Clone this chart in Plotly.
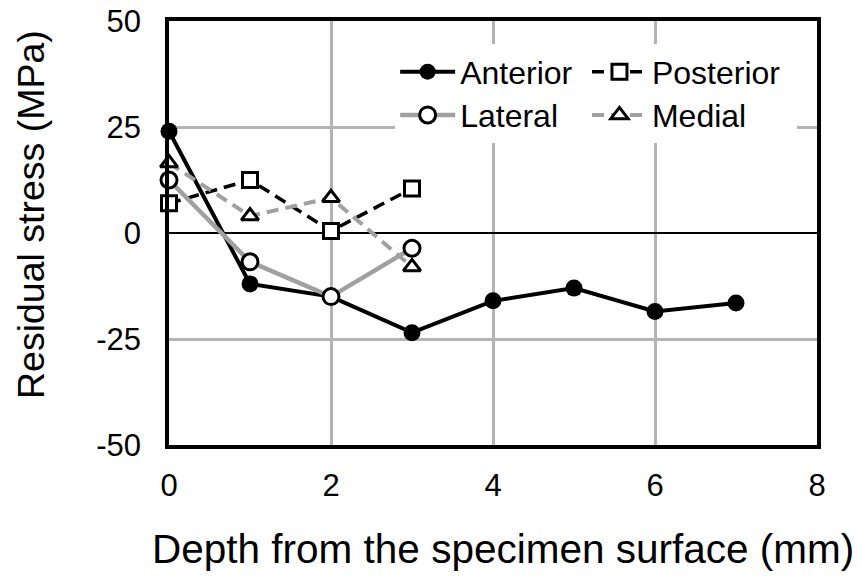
import plotly.graph_objects as go

depth_anterior = [0, 1, 2, 3, 4, 5, 6, 7]
anterior = [24, -12, -15, -23.5, -16, -13, -18.5, -16.5]
depth_short = [0, 1, 2, 3]
posterior = [7, 12.5, 0.5, 10.5]
lateral = [12.5, -6.8, -15, -3.6]
medial = [16.5, 4, 8.3, -8]

x_ticks = [0, 2, 4, 6, 8]
y_ticks = [-50, -25, 0, 25, 50]

x_title = "Depth from the specimen surface (mm)"
y_title = "Residual stress (MPa)"

FONT = "Liberation Sans, Arial, sans-serif"
GRAY = "#a0a0a0"

fig = go.Figure()
fig.add_trace(go.Scatter(
    x=depth_anterior, y=anterior, name="Anterior", mode="lines+markers",
    line=dict(color="black", width=4),
    marker=dict(symbol="circle", size=17, color="black"),
    cliponaxis=False, legend="legend"))
fig.add_trace(go.Scatter(
    x=depth_short, y=posterior, name="Posterior", mode="lines+markers",
    line=dict(color="black", width=3.5, dash="12px,7px"),
    marker=dict(symbol="square", size=15, color="white", line=dict(color="black", width=3)),
    cliponaxis=False, legend="legend2"))
fig.add_trace(go.Scatter(
    x=depth_short, y=lateral, name="Lateral", mode="lines+markers",
    line=dict(color=GRAY, width=4.5),
    marker=dict(symbol="circle", size=16, color="white", line=dict(color="black", width=3)),
    cliponaxis=False, legend="legend3"))
fig.add_trace(go.Scatter(
    x=depth_short, y=medial, name="Medial", mode="lines+markers",
    line=dict(color=GRAY, width=4, dash="12px,7px"),
    marker=dict(symbol="triangle-up", size=15, color="white", line=dict(color="black", width=3)),
    cliponaxis=False, legend="legend4"))

def leg(x, y, w):
    return dict(x=x, y=y, xanchor="left", yanchor="middle", bgcolor="white",
                borderwidth=0, itemwidth=55, orientation="h",
                entrywidth=w, entrywidthmode="pixels",
                font=dict(family=FONT, size=32, color="black"))

# legend background panel (paper coordinates), hides gridlines behind the legend
PW, PH, PL, PB = 648, 424, 169, 445
legend_panel = dict(type="rect", xref="paper", yref="paper", layer="between",
                    x0=(383 - PL) / PW, x1=(797 - PL) / PW,
                    y0=(PB - 143) / PH, y1=(PB - 42) / PH,
                    fillcolor="white", line=dict(width=0))

fig.update_layout(
    width=863, height=578,
    margin=dict(l=169, r=46, t=21, b=133),
    plot_bgcolor="white", paper_bgcolor="white",
    font=dict(family=FONT, color="black", size=31),
    showlegend=True,
    legend=leg(0.349, 0.88, 125),
    legend2=leg(0.645, 0.88, 140),
    legend3=leg(0.349, 0.778, 125),
    legend4=leg(0.645, 0.778, 140),
    shapes=[legend_panel],
    xaxis=dict(
        range=[0, 8], tickvals=x_ticks, ticktext=[str(v) for v in x_ticks],
        showgrid=True, gridcolor="#b4b4b4", gridwidth=2.5,
        showline=True, linecolor="black", linewidth=3.5, mirror=True,
        ticks="", ticklabelstandoff=10, zeroline=False, automargin=False,
        tickfont=dict(size=31),
    ),
    yaxis=dict(
        range=[-50, 50], tickvals=y_ticks, ticktext=[str(v) for v in y_ticks],
        showgrid=True, gridcolor="#b4b4b4", gridwidth=2.5,
        showline=True, linecolor="black", linewidth=3.5, mirror=True,
        ticks="", ticklabelstandoff=18, automargin=False,
        zeroline=True, zerolinecolor="black", zerolinewidth=2,
        tickfont=dict(size=31),
    ),
    annotations=[
        dict(text=x_title, xref="paper", yref="paper", x=(503 - 169) / 648, y=-(549 - 445) / 424,
             xanchor="center", yanchor="middle", showarrow=False,
             font=dict(family=FONT, size=40.5, color="black")),
        dict(text=y_title, xref="paper", yref="paper", x=-(169 - 31) / 648, y=(445 - 215) / 424,
             xanchor="center", yanchor="middle", showarrow=False, textangle=-90,
             font=dict(family=FONT, size=37.5, color="black")),
    ],
)

fig.write_html("out.html")
